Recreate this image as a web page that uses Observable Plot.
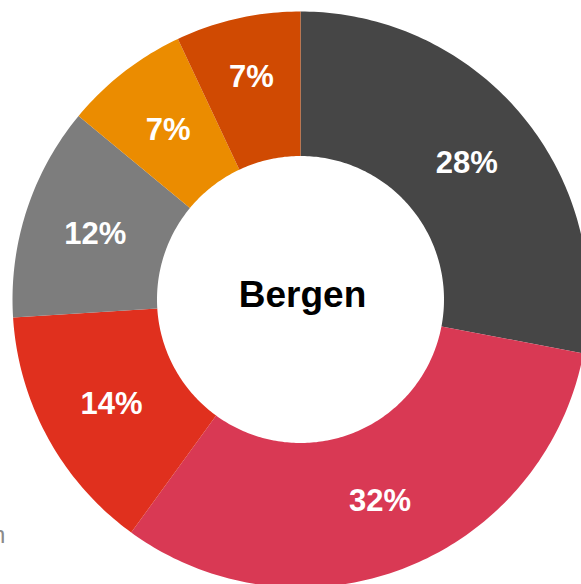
<!DOCTYPE html>
<html>
<head>
<meta charset="utf-8">
<script src="https://cdn.jsdelivr.net/npm/d3@7"></script>
<script src="https://cdn.jsdelivr.net/npm/@observablehq/plot@0.6"></script>
<style>
  html, body { margin: 0; padding: 0; background: #fff; overflow: hidden; }
  #chart { position: relative; width: 581px; height: 584px; }
  #frag { position: absolute; left: -8px; top: 521px; font: 24px "Liberation Sans", Arial, sans-serif; color: #8a8a8a; }
</style>
</head>
<body>
<div id="chart"><div id="frag">n</div></div>
<script>
// Data (clockwise from 12 o'clock)
const categories = ["Kategori 1", "Kategori 2", "Kategori 3", "Kategori 4", "Kategori 5", "Kategori 6"];
const values = [28, 32, 14, 12, 7, 7];
const labels = ["28%", "32%", "14%", "12%", "7%", "7%"];
const colors = ["#464646", "#d93954", "#e0301e", "#7d7d7d", "#eb8c00", "#d04a02"];
const centerLabel = "Bergen";

// Layout
const W = 581, H = 584;
const cx = 300, cy = 299, R = 288, rIn = 143.5;
const inner = rIn / R;

const total = d3.sum(values);
let acc = 0;
const slices = values.map((v, i) => {
  const a0 = acc / total * 2 * Math.PI;
  acc += v;
  const a1 = acc / total * 2 * Math.PI;
  return {cat: categories[i], label: labels[i], i, a0, a1};
});

// Polygon outlines for ring segments (unit radius)
const ring = [];
for (const s of slices) {
  const n = Math.max(8, Math.ceil((s.a1 - s.a0) / (2 * Math.PI) * 400));
  for (let k = 0; k <= n; k++) {
    const a = s.a0 + (s.a1 - s.a0) * k / n;
    ring.push({cat: s.cat, x: Math.sin(a), y: Math.cos(a)});
  }
  for (let k = n; k >= 0; k--) {
    const a = s.a0 + (s.a1 - s.a0) * k / n;
    ring.push({cat: s.cat, x: inner * Math.sin(a), y: inner * Math.cos(a)});
  }
}
const mid = (1 + inner) / 2;
const labelPts = slices.map(s => {
  const a = (s.a0 + s.a1) / 2;
  return {label: s.label, i: s.i, x: mid * Math.sin(a), y: mid * Math.cos(a)};
});
const last = labelPts.length - 1;

const chart = Plot.plot({
  width: W,
  height: H,
  margin: 0,
  style: {background: "transparent", fontFamily: "'Liberation Sans', Arial, sans-serif"},
  x: {domain: [-cx / R, (W - cx) / R], range: [0, W], axis: null},
  y: {domain: [-(H - cy) / R, cy / R], range: [H, 0], axis: null},
  color: {domain: categories, range: colors},
  marks: [
    Plot.line(ring, {x: "x", y: "y", z: "cat", fill: "cat", stroke: "none", curve: "linear"}),
    Plot.text(labelPts.filter(d => d.i !== last), {x: "x", y: "y", text: "label", fill: "white", fontSize: 31, fontWeight: "bold", dy: 1}),
    Plot.text(labelPts.filter(d => d.i === last), {x: "x", y: "y", text: "label", fill: "white", fontSize: 31, fontWeight: "bold", dx: -2, dy: -12}),
    Plot.text([centerLabel], {x: () => 0, y: () => 0, text: d => d, fill: "black", fontSize: 37, fontWeight: "bold", dx: 2, dy: -4})
  ]
});
chart.style.position = "absolute";
chart.style.left = "0";
chart.style.top = "0";
document.getElementById("chart").insertBefore(chart, document.getElementById("frag"));
</script>
</body>
</html>
